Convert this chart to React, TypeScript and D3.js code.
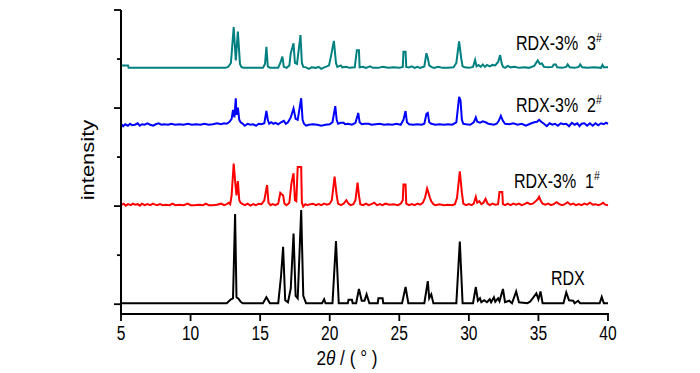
import React from "react";
import * as d3 from "d3";

type Pt = [number, number];

// 2θ (deg), intensity relative to each pattern's baseline
const rdx: Pt[] = [
  [5.0, 0], [12.6, 0], [12.9, 0.08], [13.05, 0.1], [13.2, 1.82], [13.3, 0.12], [13.45, 0.09], [13.6, 0.03], [13.75, 0],
  [15.2, 0], [15.45, 0.12], [15.7, 0], [16.3, 0], [16.5, 0.55], [16.65, 1.15], [16.8, 0.06], [17.0, 0.02], [17.2, 0.3],
  [17.4, 1.42], [17.55, 0.15], [17.7, 0.1], [17.95, 1.9], [18.1, 0.15], [18.3, 0], [19.45, 0], [19.6, 0.08], [19.7, 0],
  [20.2, 0], [20.45, 1.27], [20.65, 0], [21.3, 0], [21.35, 0.07], [21.6, 0.07], [21.65, 0], [21.9, 0], [22.1, 0.29],
  [22.3, 0.05], [22.5, 0.05], [22.65, 0.18], [22.85, 0], [23.45, 0], [23.5, 0.1], [23.8, 0.1], [23.85, 0], [25.2, 0],
  [25.45, 0.33], [25.65, 0], [26.8, 0], [27.05, 0.45], [27.15, 0.1], [27.3, 0.18], [27.45, 0], [29.1, 0], [29.35, 1.26],
  [29.55, 0], [30.3, 0], [30.5, 0.33], [30.65, 0.05], [30.8, 0.1], [30.9, 0.02], [31.1, 0.06], [31.3, 0.02], [31.5, 0.08],
  [31.6, 0.02], [31.8, 0.12], [31.9, 0.03], [32.1, 0.1], [32.2, 0.04], [32.45, 0.29], [32.6, 0.02], [32.9, 0.05], [33.1, 0],
  [33.4, 0.24], [33.6, 0.02], [34.2, 0], [34.4, 0.03], [34.85, 0.2], [35.0, 0.08], [35.15, 0.24], [35.3, 0], [36.8, 0],
  [37.0, 0.22], [37.2, 0.06], [37.5, 0.05], [37.6, 0], [37.85, 0.05], [38.0, 0], [39.4, 0], [39.55, 0.13], [39.7, 0], [40, 0],
];

const rdx1: Pt[] = [
  [5.0, 0], [5.2, 0.03], [5.35, -0.01], [5.5, 0.02], [5.7, 0], [5.85, 0.03], [6.0, 0.01], [6.2, 0.02], [6.35, -0.01],
  [6.5, 0.03], [6.7, 0], [6.9, 0.02], [7.1, 0], [7.3, 0.03], [7.45, 0.01], [7.6, 0], [7.8, 0.02], [8.0, 0], [8.2, 0.01],
  [8.5, 0], [8.7, 0.03], [8.9, 0], [9.2, 0.01], [9.5, 0], [9.8, 0.03], [10.0, 0], [10.3, 0], [10.6, 0.01], [10.9, 0],
  [11.1, 0.03], [11.3, 0], [11.6, 0], [11.9, 0.01], [12.2, 0.03], [12.4, 0], [12.6, 0.02], [12.75, 0.05], [12.85, 0.02],
  [12.95, 0.2], [13.1, 0.85], [13.2, 0.5], [13.3, 0.2], [13.4, 0.49], [13.5, 0.1], [13.6, 0.05], [13.75, 0.02], [13.9, 0],
  [14.1, 0.03], [14.3, -0.01], [14.5, 0.02], [14.7, 0], [14.9, 0.03], [15.1, 0.02], [15.3, 0.1], [15.5, 0.41], [15.6, 0.05],
  [15.75, 0], [15.9, 0.02], [16.1, 0], [16.3, 0.03], [16.45, 0.25], [16.55, 0.22], [16.65, 0.2], [16.75, 0.03], [16.9, 0],
  [17.1, 0.05], [17.25, 0.45], [17.4, 0.65], [17.5, 0.1], [17.6, 0.08], [17.7, 0.78], [17.95, 0.78], [18.0, 0.05],
  [18.1, -0.03], [18.25, 0.02], [18.4, 0], [18.6, 0.02], [18.8, 0.03], [19.0, 0], [19.2, 0.02], [19.4, 0], [19.6, 0.03],
  [19.8, 0.01], [20.0, 0.03], [20.15, 0.1], [20.35, 0.58], [20.5, 0.2], [20.6, 0.03], [20.8, 0], [21.0, 0.03], [21.2, 0.1],
  [21.35, 0.03], [21.5, 0], [21.7, 0.02], [21.85, 0.1], [22.0, 0.46], [22.1, 0.2], [22.2, 0.02], [22.4, 0], [22.6, 0.03],
  [22.8, 0], [23.0, 0.02], [23.2, 0.05], [23.4, 0], [23.6, 0.02], [23.8, 0], [24.0, 0.03], [24.3, 0.01], [24.6, 0.02],
  [24.9, 0], [25.1, 0.03], [25.25, 0.1], [25.3, 0.42], [25.45, 0.42], [25.5, 0.03], [25.7, 0], [25.9, 0.02], [26.1, 0],
  [26.3, 0.03], [26.5, 0.01], [26.7, 0.05], [26.85, 0.15], [27.0, 0.34], [27.1, 0.25], [27.2, 0.15], [27.3, 0.08],
  [27.45, 0.02], [27.6, 0], [27.9, 0.02], [28.2, 0], [28.5, 0.01], [28.8, 0], [29.0, 0.02], [29.15, 0.15], [29.35, 0.69],
  [29.5, 0.25], [29.6, 0.03], [29.8, 0], [30.0, 0.02], [30.2, 0], [30.35, 0.03], [30.5, 0.17], [30.6, 0.05], [30.75, 0.08],
  [30.9, 0.02], [31.05, 0.05], [31.2, 0.13], [31.35, 0.03], [31.5, 0], [31.7, 0.03], [31.9, 0.01], [32.1, 0.02],
  [32.2, 0.27], [32.4, 0.27], [32.45, 0.02], [32.6, 0], [32.8, 0.03], [33.0, 0], [33.2, 0.03], [33.4, 0.01], [33.6, 0.03],
  [33.8, 0], [34.0, 0.02], [34.2, 0.05], [34.4, 0.02], [34.6, 0.03], [34.8, 0.08], [34.95, 0.12], [35.05, 0.17],
  [35.15, 0.1], [35.3, 0.03], [35.5, 0.01], [35.7, 0.03], [35.9, 0], [36.1, 0.02], [36.3, 0.06], [36.5, 0.02], [36.7, 0],
  [36.9, 0.02], [37.1, 0.06], [37.3, 0.01], [37.5, 0.03], [37.7, 0], [37.9, 0.02], [38.1, 0], [38.3, 0.03], [38.5, 0.01],
  [38.7, 0.05], [38.9, 0.01], [39.1, 0.02], [39.3, 0], [39.5, 0.02], [39.65, 0.05], [39.8, 0.01], [40, 0],
];

const rdx2: Pt[] = [
  [5.0, 0.02], [5.15, -0.03], [5.3, 0.01], [5.5, -0.02], [5.65, 0.02], [5.8, -0.01], [6.0, 0], [6.2, 0.03], [6.35, -0.02],
  [6.5, 0.01], [6.7, 0], [6.9, 0.03], [7.1, 0], [7.3, -0.02], [7.5, 0.01], [7.7, 0.03], [7.9, 0], [8.1, 0.01], [8.4, 0],
  [8.6, 0.02], [8.9, 0], [9.2, 0.01], [9.5, 0], [9.8, 0.02], [10.1, 0], [10.4, 0.01], [10.7, 0], [11.0, 0.02], [11.3, 0],
  [11.6, 0.01], [11.9, 0.03], [12.2, 0.01], [12.4, 0.03], [12.6, 0.02], [12.8, 0.06], [12.95, 0.12], [13.05, 0.3],
  [13.15, 0.15], [13.25, 0.54], [13.3, 0.2], [13.4, 0.35], [13.5, 0.1], [13.6, 0.05], [13.75, 0.02], [13.9, -0.02],
  [14.1, 0.02], [14.3, 0], [14.5, 0.01], [14.7, -0.02], [14.9, 0.02], [15.1, 0.01], [15.3, 0.03], [15.45, 0.28],
  [15.55, 0.1], [15.65, 0.02], [15.8, 0.05], [15.95, 0.02], [16.1, 0.04], [16.3, 0.01], [16.5, 0.05], [16.7, 0.08],
  [16.85, 0.02], [17.0, 0.05], [17.2, 0.15], [17.4, 0.33], [17.55, 0.12], [17.7, 0.1], [17.95, 0.54], [18.05, 0.1],
  [18.15, 0.02], [18.3, -0.02], [18.5, 0], [18.8, 0.01], [19.1, 0], [19.4, -0.02], [19.7, 0], [20.0, 0.01], [20.2, 0.05],
  [20.4, 0.38], [20.5, 0.1], [20.6, 0.02], [20.8, 0.04], [21.0, 0.04], [21.1, 0.01], [21.3, 0.02], [21.6, 0], [21.85, 0.04],
  [22.05, 0.24], [22.15, 0.05], [22.3, 0.01], [22.5, 0.02], [22.8, 0.02], [23.0, 0], [23.3, 0.01], [23.6, 0.02], [23.9, 0],
  [24.2, 0.01], [24.5, 0], [24.8, 0.02], [25.1, 0], [25.3, 0.1], [25.45, 0.28], [25.55, 0.05], [25.7, 0.01], [26.0, 0],
  [26.3, 0.01], [26.6, 0], [26.8, 0.02], [26.95, 0.22], [27.05, 0.24], [27.15, 0.05], [27.3, 0.02], [27.6, 0], [27.9, 0.01],
  [28.2, 0], [28.5, 0.01], [28.8, 0], [29.1, 0.05], [29.3, 0.57], [29.4, 0.5], [29.5, 0.1], [29.6, 0.02], [29.8, 0.01],
  [30.1, 0], [30.35, 0.05], [30.5, 0.15], [30.6, 0.06], [30.8, 0.04], [31.0, 0.07], [31.2, 0.05], [31.4, 0.02], [31.6, 0.01],
  [31.8, 0], [32.0, 0.02], [32.15, 0.08], [32.3, 0.18], [32.45, 0.08], [32.6, 0.02], [32.9, 0.01], [33.2, 0.03], [33.5, 0],
  [33.8, 0.02], [34.1, -0.02], [34.4, 0.02], [34.7, 0.05], [34.9, 0.06], [35.05, 0.1], [35.2, 0.06], [35.4, 0.02],
  [35.6, -0.03], [35.8, 0.03], [36.0, 0], [36.2, 0.02], [36.4, -0.02], [36.6, 0.03], [36.8, 0.01], [37.0, 0.02],
  [37.2, -0.03], [37.4, 0.04], [37.6, 0], [37.8, 0.03], [37.95, -0.03], [38.1, 0.02], [38.3, 0.03], [38.5, -0.02],
  [38.7, 0.03], [38.9, -0.02], [39.1, 0.03], [39.3, -0.01], [39.5, 0.03], [39.7, 0.01], [39.85, 0.04], [40, 0.02],
];

const rdx3: Pt[] = [
  [5.0, 0.05], [5.5, 0.05], [5.55, 0], [12.5, 0], [12.7, 0.02], [12.9, 0.1], [13.1, 0.83], [13.25, 0.15], [13.4, 0.74],
  [13.55, 0.08], [13.65, 0.02], [13.8, 0], [15.2, 0], [15.35, 0.08], [15.45, 0.43], [15.55, 0.03], [15.7, 0], [16.3, 0],
  [16.45, 0.1], [16.6, 0.23], [16.7, 0.02], [16.9, 0], [17.1, 0.05], [17.2, 0.3], [17.4, 0.5], [17.5, 0.1], [17.65, 0.08],
  [17.9, 0.67], [18.0, 0.1], [18.1, 0.02], [18.3, 0.01], [18.5, -0.02], [18.7, 0.01], [19.0, 0], [19.2, 0.02], [19.4, -0.02],
  [19.6, 0.01], [19.8, 0.03], [19.95, 0.05], [20.1, 0.25], [20.3, 0.55], [20.45, 0.1], [20.55, 0.02], [20.8, 0.05],
  [20.9, 0.01], [21.2, 0.02], [21.4, 0], [21.8, 0.01], [21.95, 0.36], [22.1, 0.36], [22.15, 0.01], [22.4, 0.02], [22.6, 0],
  [22.9, 0.03], [23.1, 0], [23.5, 0], [23.8, 0.02], [24.2, 0], [24.6, 0.01], [25.0, 0], [25.25, 0.02], [25.3, 0.33],
  [25.45, 0.33], [25.5, 0.02], [25.7, 0.01], [25.9, 0.03], [26.1, 0], [26.3, 0.02], [26.5, 0], [26.8, 0.03], [26.95, 0.3],
  [27.05, 0.2], [27.15, 0.05], [27.3, 0.02], [27.5, 0], [27.8, 0.02], [28.1, 0], [28.5, 0], [28.9, 0.01], [29.1, 0.1],
  [29.3, 0.54], [29.45, 0.2], [29.55, 0.03], [29.7, 0.01], [30.0, 0], [30.3, 0.02], [30.45, 0.16], [30.55, 0.03],
  [30.7, 0.06], [30.85, 0.02], [31.0, 0.07], [31.15, 0.02], [31.3, 0.06], [31.5, 0.03], [31.7, 0.06], [31.9, 0.05],
  [32.1, 0.12], [32.25, 0.26], [32.35, 0.1], [32.45, 0.02], [32.6, 0], [32.8, 0.04], [33.0, 0.01], [33.3, 0.02], [33.6, 0],
  [34.0, 0.01], [34.3, 0], [34.7, 0.04], [34.95, 0.15], [35.1, 0.08], [35.25, 0.09], [35.4, 0.02], [35.7, 0.01], [36.0, 0.02],
  [36.1, 0.07], [36.25, 0.07], [36.35, 0.01], [36.7, 0], [37.0, 0.02], [37.1, 0.07], [37.25, 0.01], [37.6, 0], [37.9, 0.02],
  [38.0, 0.07], [38.15, 0.01], [38.5, 0], [39.0, 0.01], [39.5, 0], [39.6, 0.06], [39.7, 0.01], [40, 0.01],
];

const seriesData: Pt[][] = [rdx, rdx1, rdx2, rdx3];
const seriesOffsets = [0.02, 2.02, 3.66, 4.82];
const seriesColors = ["#000000", "#ff0000", "#0000ff", "#008080"];
const seriesNames = ["RDX", "RDX-3%  1", "RDX-3%  2", "RDX-3%  3"];
const seriesSup = ["", "#", "#", "#"];
const labelPos: Pt[] = [[551, 285], [514, 188], [516, 112], [516, 50]];

const xTicks = [5, 10, 15, 20, 25, 30, 35, 40];
const yTicks = [0, 1, 2, 3, 4, 5, 6];

const W = 700;
const H = 373;
const FONT = "Arial, 'Liberation Sans', sans-serif";

export default function App() {
  const x = d3.scaleLinear().domain([5, 40]).range([121, 608]);
  const y = d3.scaleLinear().domain([-0.2, 6]).range([314, 10]);

  return (
    <svg
      width={W}
      height={H}
      style={{ position: "absolute", left: 0, top: 0, background: "#fff" }}
      fontFamily={FONT}
    >
      {seriesData.map((d, i) => {
        const line = d3
          .line<Pt>()
          .x((p) => x(p[0]))
          .y((p) => y(p[1] + seriesOffsets[i]));
        return (
          <path
            key={i}
            d={line(d) || ""}
            fill="none"
            stroke={seriesColors[i]}
            strokeWidth={2}
            strokeLinejoin="miter"
          />
        );
      })}

      {/* axes */}
      <line x1={x(5)} x2={x(5)} y1={y(6)} y2={y(-0.2)} stroke="#000" strokeWidth={2} />
      <line x1={x(5) - 1} x2={x(40) + 1} y1={y(-0.2)} y2={y(-0.2)} stroke="#000" strokeWidth={2} />
      {yTicks.map((t) => (
        <line
          key={t}
          x1={x(5)}
          x2={x(5) - (t % 2 === 0 ? 7 : 4)}
          y1={y(t)}
          y2={y(t)}
          stroke="#000"
          strokeWidth={1.8}
        />
      ))}
      {xTicks.map((t) => (
        <g key={t}>
          <line x1={x(t)} x2={x(t)} y1={y(-0.2)} y2={y(-0.2) + 7} stroke="#000" strokeWidth={1.8} />
          <text
            transform={`translate(${x(t)},340) scale(0.8,1)`}
            textAnchor="middle"
            fontSize={19.5}
            fill="#000"
          >
            {t}
          </text>
        </g>
      ))}

      {/* axis titles */}
      <text transform="translate(347,365) scale(0.82,1)" textAnchor="middle" fontSize={21} fill="#000">
        <tspan fontStyle="normal">2</tspan>
        <tspan fontStyle="italic">θ</tspan>
        <tspan fontStyle="normal" style={{ whiteSpace: "pre" }}> / ( ° )</tspan>
      </text>
      <text
        transform="translate(94,160) rotate(-90) scale(1,0.82)"
        textAnchor="middle"
        fontSize={22}
        fill="#000"
      >
        intensity
      </text>

      {/* series labels */}
      {seriesNames.map((n, i) => (
        <text
          key={n}
          transform={`translate(${labelPos[i][0]},${labelPos[i][1]}) scale(0.8,1)`}
          fontSize={20}
          fill="#000"
          style={{ whiteSpace: "pre" }}
        >
          <tspan>{n}</tspan>
          {seriesSup[i] ? (
            <tspan fontSize={13} dy={-8}>
              {seriesSup[i]}
            </tspan>
          ) : null}
        </text>
      ))}
    </svg>
  );
}
